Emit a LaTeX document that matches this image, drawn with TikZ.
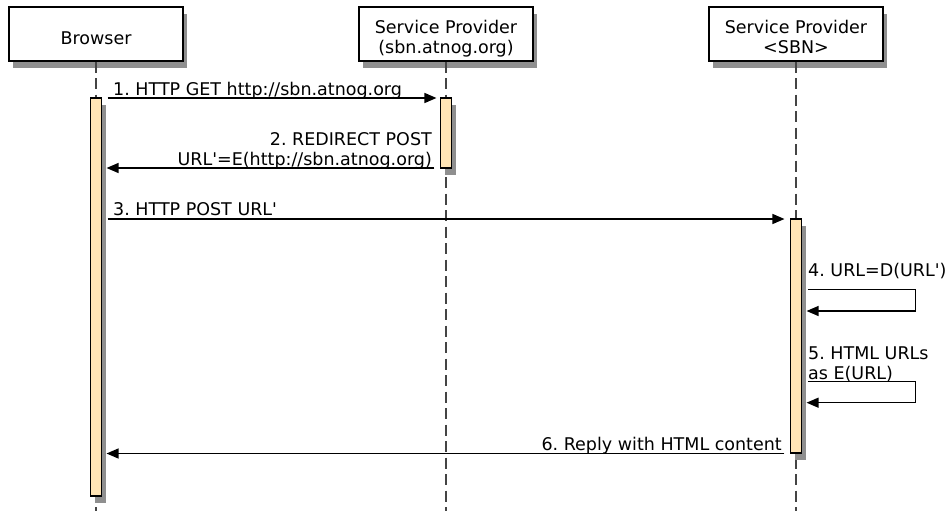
\documentclass[tikz,border=0pt]{standalone}
\usepackage{fontspec}
\setmainfont{DejaVu Sans}
\usetikzlibrary{arrows.meta,shadows,calc}

\definecolor{barfill}{HTML}{FFE4B5}
\definecolor{shadowgray}{HTML}{8F8F8F}
\definecolor{lifegray}{HTML}{444444}

\tikzset{
  diagfont/.style={font=\frenchspacing\fontsize{17.5}{20}\selectfont},
  shade box/.style={drop shadow={shadow xshift=4pt, shadow yshift=-7pt, fill=shadowgray, opacity=1}},
  actor/.style={draw=black, line width=1.1pt, fill=white, minimum width=174pt, minimum height=54pt, inner sep=0pt, shade box},
  actbar/.style={draw=black, line width=1.1pt, fill=barfill, minimum width=11pt, inner sep=0pt, shade box},
  lifeline/.style={draw=lifegray, line width=1.5pt, dash pattern=on 11pt off 5.5pt},
  msg/.style={draw=black, line width=1.3pt, -{Triangle[length=12pt,width=10pt]}},
  lbl/.style={diagfont, inner sep=0pt},
}
\newcommand{\sq}{\textquotesingle}

\begin{document}
\begin{tikzpicture}[x=1pt, y=-1pt]
  \useasboundingbox (0,0) rectangle (947,511);

  % participants
  \node[actor] (browser) at (96,34) {};
  \node[actor] (sp)      at (446,34) {};
  \node[actor] (sbn)     at (796,34) {};
  \node[lbl, anchor=base] (tbrowser) at (96,44.3) {Browser};
  \node[lbl, anchor=base] (tsp1) at (446,33.3) {Service Provider};
  \node[lbl, anchor=base] (tsp2) at (446,53) {(sbn.atnog.org)};
  \node[lbl, anchor=base] (tsbn1) at (796,33.3) {Service Provider};
  \node[lbl, anchor=base] (tsbn2) at (796,53) {<SBN>};

  % lifelines
  \coordinate (end1) at (96,511);
  \coordinate (end2) at (446,511);
  \coordinate (end3) at (796,511);
  \draw[lifeline] (browser.south) -- (end1);
  \draw[lifeline] (sp.south) -- (end2);
  \draw[lifeline] (sbn.south) -- (end3);

  % activation bars
  \node[actbar, minimum height=398pt] (bb) at (96,297) {};
  \node[actbar, minimum height=70pt]  (b2) at (446,133) {};
  \node[actbar, minimum height=234pt] (b3) at (796,336) {};

  % message rows
  \coordinate (y1) at (0,98);
  \coordinate (y2) at (0,168);
  \coordinate (y3) at (0,219);
  \coordinate (y4a) at (0,289.3);
  \coordinate (y4b) at (0,311);
  \coordinate (y5a) at (0,381.7);
  \coordinate (y5b) at (0,402.7);
  \coordinate (y6) at (0,453.5);
  \coordinate (loopx) at (915.3,0);

  % 1
  \draw[msg] ($(bb.east |- y1)+(5.5,0)$) -- ($(b2.west |- y1)+(-3.5,0)$);
  \node[lbl, anchor=base west] (l1) at (113,95.5) {1. HTTP GET http://sbn.atnog.org};

  % 2
  \draw[msg] ($(b2.west |- y2)+(-5.5,0)$) -- ($(bb.east |- y2)+(4.5,0)$);
  \node[lbl, anchor=base east] (l2a) at (432,145.7) {2. REDIRECT POST};
  \node[lbl, anchor=base east] (l2b) at (432,165.7) {URL\sq=E(http://sbn.atnog.org)};

  % 3
  \draw[msg] ($(bb.east |- y3)+(5.5,0)$) -- ($(b3.west |- y3)+(-5.5,0)$);
  \node[lbl, anchor=base west] (l3) at (113,215) {3. HTTP POST URL\sq};

  % 4
  \draw[msg] ($(b3.east |- y4a)+(5.8,0)$) -- (loopx |- y4a) -- (loopx |- y4b) -- ($(b3.east |- y4b)+(4.5,0)$);
  \node[lbl, anchor=base west] (l4) at (808,276.7) {4. URL=D(URL\sq)};

  % 5
  \draw[msg] ($(b3.east |- y5a)+(5.8,0)$) -- (loopx |- y5a) -- (loopx |- y5b) -- ($(b3.east |- y5b)+(4.5,0)$);
  \node[lbl, anchor=base west] (l5a) at (808,359.3) {5. HTML URLs};
  \node[lbl, anchor=base west] (l5b) at (808,379.3) {as E(URL)};

  % 6
  \draw[msg] ($(b3.west |- y6)+(-5.5,0)$) -- ($(bb.east |- y6)+(4.5,0)$);
  \node[lbl, anchor=base east] (l6) at (782,450.7) {6. Reply with HTML content};
\end{tikzpicture}
\end{document}
